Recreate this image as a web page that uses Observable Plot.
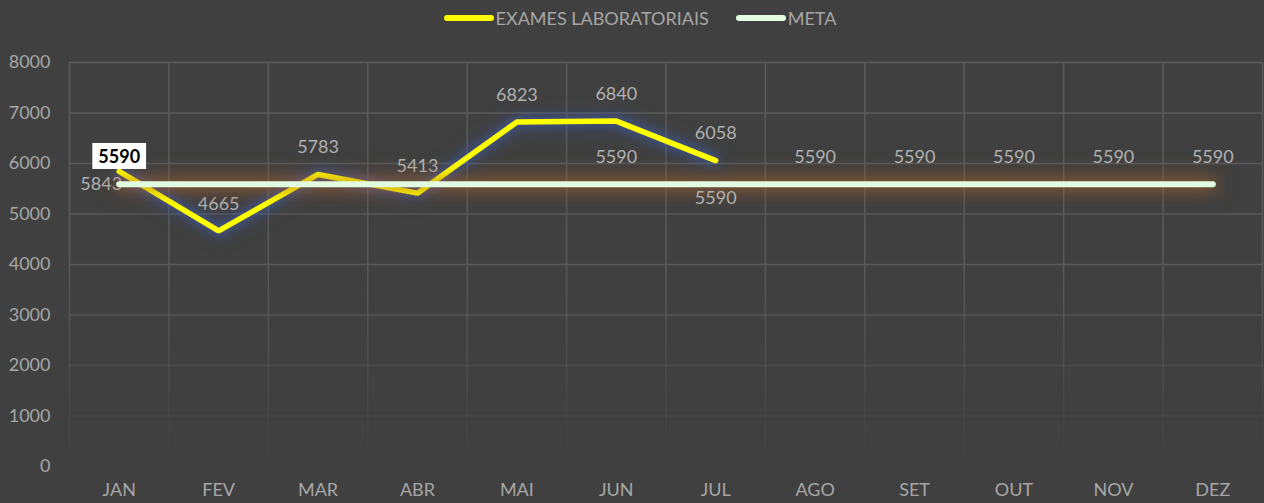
<!DOCTYPE html>
<html>
<head>
<meta charset="utf-8">
<script src="https://cdn.jsdelivr.net/npm/d3@7"></script>
<script src="https://cdn.jsdelivr.net/npm/@observablehq/plot@0.6"></script>
<style>
  html, body { margin: 0; padding: 0; background: #404040; }
  body { width: 1264px; height: 503px; overflow: hidden; font-family: Lato, "Open Sans", sans-serif; }
  #legend { height: 36px; display: flex; justify-content: center; align-items: center; gap: 27px; color: #a6a6a6; font-size: 18px; padding-left: 16px; }
  #legend .item { display: flex; align-items: center; }
  #legend .sw { display: inline-block; width: 50px; height: 6px; border-radius: 3px; margin-right: 2px; }
  .glowY path { filter: drop-shadow(0 0 5px rgba(60,95,185,0.85)) drop-shadow(0 0 8px rgba(60,95,185,0.5)); }
  .glowM path { filter: drop-shadow(0 0 7px rgba(175,100,40,0.85)) drop-shadow(0 0 10px rgba(175,100,40,0.5)); }
</style>
</head>
<body>
<div id="legend"></div>
<div id="chart"></div>
<script>
const months = ["JAN","FEV","MAR","ABR","MAI","JUN","JUL","AGO","SET","OUT","NOV","DEZ"];
const exames = [5843, 4665, 5783, 5413, 6823, 6840, 6058];
const meta = [5590, 5590, 5590, 5590, 5590, 5590, 5590, 5590, 5590, 5590, 5590, 5590];
const yTicks = [0, 1000, 2000, 3000, 4000, 5000, 6000, 7000, 8000];
const seriesNames = ["EXAMES LABORATORIAIS", "META"];
const seriesColors = ["#ffff00", "#e2fce2"];
// which META labels are shown in the reference (others hidden)
const metaLabelMonths = ["JUN", "AGO", "SET", "OUT", "NOV", "DEZ"];
const metaLabelBelow = ["JUL"];
const metaLabelBoxed = ["JAN"];

const exRows = exames.map((v, i) => ({i, month: months[i], value: v}));
const metaRows = meta.map((v, i) => ({i, month: months[i], value: v}));
const bounds = months.map((m, i) => i - 0.5).concat([months.length - 0.5]);

// legend
const leg = document.getElementById("legend");
seriesNames.forEach((n, k) => {
  const it = document.createElement("div");
  it.className = "item";
  it.innerHTML = `<span class="sw" style="background:${seriesColors[k]}"></span><span>${n}</span>`;
  leg.appendChild(it);
});

const labelColor = "#b0b0b0";
const fs = 18;
const plot = Plot.plot({
  width: 1264,
  height: 467,
  marginTop: 26,
  marginBottom: 37,
  marginLeft: 69,
  marginRight: 2,
  style: {background: "#404040", fontFamily: "Lato, 'Open Sans', sans-serif", fontSize: "18px", color: "#a6a6a6"},
  x: {domain: [-0.5, months.length - 0.5], ticks: months.map((m, i) => i), tickFormat: i => months[i], tickSize: 0, tickPadding: 17, label: null},
  y: {domain: [0, 8000], ticks: yTicks, tickFormat: d => String(d), tickSize: 0, tickPadding: 19, label: null},
  marks: [
    Plot.ruleY(yTicks, {stroke: "url(#gridFade)", strokeWidth: 1.5}),
    Plot.ruleX(bounds, {stroke: "url(#gridFade)", strokeWidth: 1.5}),
    Plot.line(exRows, {x: "i", y: "value", stroke: seriesColors[0], strokeWidth: 5.5, strokeLinecap: "round", strokeLinejoin: "miter", className: "glowY"}),
    Plot.text(exRows.filter(d => d.i > 0), {x: "i", y: "value", text: d => String(d.value), dy: -27, fill: labelColor, fontSize: fs}),
    Plot.text(exRows.filter(d => d.i === 0), {x: "i", y: "value", text: d => String(d.value), dx: -18, dy: 13, fill: labelColor, fontSize: fs}),
    Plot.line(metaRows, {x: "i", y: "value", stroke: seriesColors[1], strokeWidth: 6, strokeLinecap: "round", className: "glowM"}),
    Plot.text(metaRows.filter(d => metaLabelMonths.includes(d.month)), {x: "i", y: "value", text: d => String(d.value), dy: -27, fill: labelColor, fontSize: fs}),
    Plot.text(metaRows.filter(d => metaLabelBelow.includes(d.month)), {x: "i", y: "value", text: d => String(d.value), dy: 14, fill: labelColor, fontSize: fs}),
    Plot.text(metaRows.filter(d => metaLabelBoxed.includes(d.month)), {x: "i", y: "value", text: d => String(d.value), dy: -27, fill: "#000", fontSize: fs, fontWeight: "bold", className: "boxed"})
  ]
});
document.getElementById("chart").appendChild(plot);

// fading grid gradient (top visible, fades near bottom)
const ns = "http://www.w3.org/2000/svg";
const defs = document.createElementNS(ns, "defs");
const grad = document.createElementNS(ns, "linearGradient");
grad.setAttribute("id", "gridFade");
grad.setAttribute("gradientUnits", "userSpaceOnUse");
grad.setAttribute("x1", 0); grad.setAttribute("x2", 0);
grad.setAttribute("y1", 26); grad.setAttribute("y2", 430);
[[0, 1], [0.5, 0.95], [0.7, 0.6], [0.85, 0.25], [1, 0]].forEach(([o, a]) => {
  const s = document.createElementNS(ns, "stop");
  s.setAttribute("offset", o);
  s.setAttribute("stop-color", "#5a5a5a");
  s.setAttribute("stop-opacity", a);
  grad.appendChild(s);
});
defs.appendChild(grad);
plot.insertBefore(defs, plot.firstChild);

// white box behind the boxed label
plot.querySelectorAll("g.boxed text").forEach(t => {
  const b = t.getBBox();
  const r = document.createElementNS(ns, "rect");
  r.setAttribute("x", b.x - 6);
  r.setAttribute("y", b.y - 2);
  r.setAttribute("width", b.width + 12);
  r.setAttribute("height", b.height + 4);
  r.setAttribute("fill", "#ffffff");
  const tr = t.getAttribute("transform");
  if (tr) r.setAttribute("transform", tr);
  t.parentNode.insertBefore(r, t);
});
</script>
</body>
</html>
